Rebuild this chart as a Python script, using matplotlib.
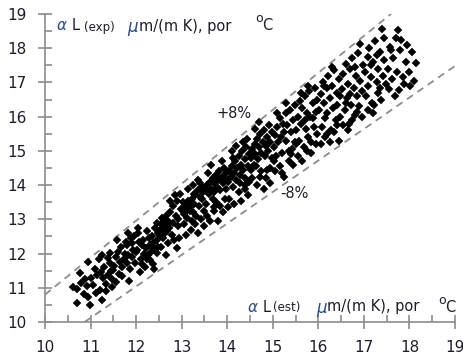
import numpy as np
import matplotlib.pyplot as plt

# (alpha_est, alpha_exp) pairs, grouped by x range
pts_106_110 = [(10.61, 11.03), (10.71, 10.56), (10.78, 11.13), (10.77, 11.42), (10.95, 11.76),
               (10.95, 10.74), (10.99, 10.50), (10.88, 11.25), (10.70, 10.95), (10.92, 11.05),
               (10.85, 10.82)]
pts_110_115 = [(11.06, 11.08), (11.21, 10.94), (11.25, 10.64), (11.14, 11.37), (11.28, 11.28),
               (11.39, 11.37), (11.25, 11.96), (11.43, 12.01), (11.47, 11.03), (11.43, 11.71),
               (11.10, 11.55), (11.18, 11.85), (11.35, 11.10), (11.02, 11.30), (11.30, 11.62),
               (11.45, 11.48), (11.12, 10.85), (11.38, 11.88), (11.22, 11.45), (11.33, 10.90),
               (11.48, 11.25)]
pts_115_120 = [(11.56, 11.18), (11.50, 11.52), (11.61, 12.06), (11.65, 11.76), (11.58, 12.40),
               (11.83, 12.59), (11.80, 12.25), (11.94, 12.11), (11.80, 11.71), (11.98, 11.71),
               (11.55, 11.90), (11.70, 11.35), (11.75, 12.00), (11.88, 12.45), (11.68, 11.60),
               (11.85, 11.20), (11.92, 11.90), (11.62, 11.40), (11.78, 12.35), (11.90, 12.30),
               (11.73, 11.85), (11.96, 12.50), (11.52, 11.65), (11.86, 11.55), (11.66, 12.20),
               (11.99, 12.05), (11.82, 11.95)]
pts_120_125 = [(12.05, 12.59), (12.13, 12.25), (12.31, 12.25), (12.27, 11.96), (12.45, 12.01),
               (12.20, 11.62), (12.09, 11.47), (12.40, 11.55), (12.35, 12.50), (12.42, 12.75),
               (12.48, 12.60), (12.02, 12.10), (12.15, 12.40), (12.22, 12.15), (12.30, 11.80),
               (12.38, 12.30), (12.10, 11.85), (12.25, 12.65), (12.45, 12.90), (12.18, 12.00),
               (12.33, 12.05), (12.46, 12.40), (12.07, 12.35), (12.28, 12.45), (12.40, 12.15),
               (12.12, 11.70), (12.36, 11.70), (12.49, 12.20), (12.04, 12.75), (12.24, 11.85)]
pts_125_130 = [(12.52, 12.70), (12.55, 12.85), (12.58, 12.62), (12.60, 12.78), (12.62, 12.95),
               (12.65, 12.70), (12.57, 12.90), (12.68, 12.82), (12.53, 12.55), (12.63, 12.60),
               (12.70, 12.95), (12.56, 13.05), (12.66, 13.10), (12.72, 12.75), (12.60, 12.45),
               (12.75, 13.20), (12.80, 13.40), (12.85, 13.70), (12.90, 13.55), (12.78, 12.55),
               (12.82, 12.90), (12.89, 12.15), (12.95, 12.45), (12.70, 12.30), (12.55, 12.20),
               (12.88, 13.10), (12.92, 12.80), (12.98, 13.30), (12.74, 13.55), (12.84, 12.40),
               (12.65, 11.95), (12.96, 13.75), (12.62, 12.88), (12.58, 12.75), (12.68, 12.65),
               (12.93, 13.00)]
pts_130_135 = [(13.02, 13.25), (13.05, 13.35), (13.08, 13.22), (13.10, 13.40), (13.12, 13.30),
               (13.15, 13.45), (13.18, 13.25), (13.06, 13.15), (13.20, 13.38), (13.14, 13.55),
               (13.03, 13.50), (13.22, 13.60), (13.25, 13.20), (13.28, 13.45), (13.30, 13.70),
               (13.35, 13.85), (13.40, 14.05), (13.45, 13.95), (13.10, 12.55), (13.20, 12.70),
               (13.30, 12.85), (13.35, 12.60), (13.42, 13.00), (13.48, 13.25), (13.38, 13.40),
               (13.45, 13.60), (13.25, 14.00), (13.15, 13.90), (13.32, 13.10), (13.05, 12.85),
               (13.48, 12.80), (13.40, 13.65), (13.27, 13.75), (13.12, 13.05), (13.36, 14.15),
               (13.22, 12.95), (13.46, 13.80)]
pts_135_140 = [(13.52, 13.85), (13.55, 14.00), (13.60, 13.75), (13.62, 14.10), (13.65, 13.90),
               (13.68, 14.20), (13.70, 13.80), (13.72, 14.05), (13.75, 14.30), (13.78, 13.95),
               (13.80, 14.15), (13.82, 14.40), (13.85, 13.85), (13.88, 14.25), (13.90, 14.05),
               (13.92, 14.50), (13.95, 14.20), (13.98, 13.90), (13.55, 13.10), (13.62, 12.95),
               (13.70, 13.25), (13.75, 13.50), (13.85, 13.40), (13.90, 13.20), (13.58, 14.35),
               (13.65, 14.60), (13.95, 13.60), (13.53, 13.45), (13.80, 12.95), (13.68, 13.60),
               (13.88, 14.70), (13.72, 13.35), (13.98, 14.35)]
pts_140_145 = [(14.02, 14.10), (14.05, 14.40), (14.08, 14.25), (14.10, 14.55), (14.12, 13.95),
               (14.15, 14.35), (14.18, 14.70), (14.20, 14.15), (14.22, 14.50), (14.25, 14.85),
               (14.28, 14.30), (14.30, 14.60), (14.32, 15.00), (14.35, 14.45), (14.38, 14.75),
               (14.40, 14.20), (14.42, 15.10), (14.45, 14.55), (14.48, 14.90), (14.05, 13.60),
               (14.15, 13.45), (14.25, 13.80), (14.30, 13.55), (14.40, 13.90), (14.45, 13.70),
               (14.10, 15.00), (14.20, 15.15), (14.35, 15.25), (14.48, 14.10), (14.02, 13.35),
               (14.38, 14.00), (14.12, 14.80), (14.27, 14.05), (14.44, 15.35)]
pts_145_150 = [(14.52, 14.80), (14.55, 15.05), (14.58, 14.60), (14.60, 15.20), (14.62, 14.90),
               (14.65, 15.35), (14.68, 14.75), (14.70, 15.10), (14.72, 15.50), (14.75, 14.95),
               (14.78, 15.25), (14.80, 15.60), (14.82, 14.85), (14.85, 15.15), (14.88, 15.40),
               (14.90, 15.00), (14.92, 15.75), (14.95, 15.25), (14.98, 14.80), (14.55, 14.20),
               (14.65, 14.00), (14.75, 14.40), (14.85, 14.20), (14.95, 14.50), (14.60, 15.65),
               (14.70, 15.85), (14.88, 14.45), (14.52, 14.45), (14.80, 13.90), (14.95, 14.05),
               (14.63, 14.55), (14.73, 14.25), (14.98, 15.55)]
pts_150_155 = [(15.02, 15.10), (15.05, 15.45), (15.08, 14.85), (15.10, 15.70), (15.12, 15.25),
               (15.15, 15.95), (15.18, 15.40), (15.20, 14.95), (15.22, 15.80), (15.25, 15.55),
               (15.28, 16.10), (15.30, 15.30), (15.32, 15.75), (15.35, 14.70), (15.38, 16.20),
               (15.40, 15.55), (15.42, 15.05), (15.45, 15.90), (15.48, 16.35), (15.05, 14.40),
               (15.15, 14.55), (15.25, 14.25), (15.35, 15.00), (15.45, 14.60), (15.10, 16.10),
               (15.30, 16.40), (15.48, 15.25), (15.02, 14.70), (15.20, 14.35), (15.40, 14.90)]
pts_155_160 = [(15.52, 15.60), (15.55, 16.00), (15.58, 15.30), (15.60, 16.45), (15.62, 15.80),
               (15.65, 16.25), (15.68, 15.10), (15.70, 16.60), (15.72, 15.65), (15.75, 16.10),
               (15.78, 15.40), (15.80, 16.75), (15.82, 16.00), (15.85, 15.25), (15.88, 16.40),
               (15.90, 15.70), (15.92, 16.85), (15.95, 16.15), (15.98, 15.50), (15.55, 14.85),
               (15.65, 14.70), (15.75, 15.00), (15.85, 14.95), (15.95, 15.20), (15.62, 16.70),
               (15.78, 16.90), (15.50, 15.20), (15.88, 15.95), (15.70, 15.90), (15.96, 16.50)]
pts_160_165 = [(16.02, 16.20), (16.05, 16.65), (16.08, 15.70), (16.10, 17.00), (16.12, 16.40),
               (16.15, 15.95), (16.18, 16.85), (16.20, 16.10), (16.22, 17.20), (16.25, 16.55),
               (16.28, 15.60), (16.30, 16.90), (16.32, 16.25), (16.35, 17.35), (16.38, 15.90),
               (16.40, 16.70), (16.42, 16.35), (16.45, 17.10), (16.48, 16.00), (16.05, 15.20),
               (16.15, 15.40), (16.25, 15.25), (16.35, 15.55), (16.45, 15.30), (16.12, 16.90),
               (16.30, 17.45), (16.40, 15.75), (16.48, 16.60), (16.20, 15.50)]
pts_165_170 = [(16.52, 16.80), (16.55, 17.25), (16.58, 16.20), (16.60, 17.55), (16.62, 16.55),
               (16.65, 16.95), (16.68, 15.80), (16.70, 17.40), (16.72, 16.35), (16.75, 17.70),
               (16.78, 16.85), (16.80, 16.05), (16.82, 17.20), (16.85, 16.60), (16.88, 17.85),
               (16.90, 16.30), (16.92, 17.05), (16.95, 16.75), (16.98, 17.50), (16.55, 15.75),
               (16.65, 15.60), (16.75, 15.90), (16.85, 16.15), (16.95, 16.00), (16.91, 18.12),
               (16.60, 16.40), (16.70, 16.65), (16.80, 17.45)]
pts_170_175 = [(17.02, 17.30), (17.05, 16.60), (17.08, 17.75), (17.10, 16.90), (17.12, 18.00),
               (17.15, 17.15), (17.18, 16.40), (17.20, 17.60), (17.22, 16.35), (17.25, 18.20),
               (17.28, 17.00), (17.30, 17.40), (17.32, 16.70), (17.35, 17.90), (17.38, 16.50),
               (17.40, 18.57), (17.42, 17.20), (17.45, 17.65), (17.48, 16.95), (17.10, 16.20),
               (17.20, 16.10), (17.35, 16.85), (17.45, 18.30), (17.28, 17.80), (17.15, 17.50)]
pts_175_182 = [(17.52, 17.40), (17.55, 16.80), (17.58, 18.05), (17.62, 17.10), (17.65, 17.70),
               (17.68, 16.60), (17.74, 18.52), (17.72, 17.30), (17.77, 16.78), (17.80, 17.95),
               (17.85, 17.15), (17.88, 16.95), (17.92, 17.60), (17.95, 18.10), (18.00, 17.30),
               (18.06, 17.89), (18.10, 17.05), (18.15, 17.56), (17.60, 17.95), (17.82, 18.25),
               (18.02, 16.90), (17.70, 18.30)]

# +/-8 % tolerance lines
tol_plus = 1.08
tol_plus_x = [10.0, 17.6]
tol_minus = 0.92
tol_minus_x = [10.87, 19.0]

all_pts = (pts_106_110 + pts_110_115 + pts_115_120 + pts_120_125 + pts_125_130 +
           pts_130_135 + pts_135_140 + pts_140_145 + pts_145_150 + pts_150_155 +
           pts_155_160 + pts_160_165 + pts_165_170 + pts_170_175 + pts_175_182)
alpha_est = np.array([p[0] for p in all_pts])
alpha_exp = np.array([p[1] for p in all_pts])

W, H = 463, 360
fig = plt.figure(figsize=(W / 100, H / 100), dpi=100)
ax = fig.add_axes([45 / W, 1 - 322 / H, 410 / W, 308 / H])

gray = "#8c8c8c"
txt = "#1c1c2e"

ax.plot(alpha_est, alpha_exp, linestyle="none", marker="D", ms=3.8,
        color="black", mec="black", mew=0.3, zorder=3)

px = np.array(tol_plus_x)
mx = np.array(tol_minus_x)
ax.plot(px, tol_plus * px, color=gray, ls=(0, (4, 3)), lw=1.3, zorder=2)
ax.plot(mx, tol_minus * mx, color=gray, ls=(0, (4, 3)), lw=1.3, zorder=2)

ax.set_xlim(10, 19)
ax.set_ylim(10, 19)
ax.set_xticks(np.arange(10, 20, 1))
ax.set_yticks(np.arange(10, 20, 1))
ax.set_xticks(np.arange(10.5, 19, 1), minor=True)
ax.set_yticks(np.arange(10.5, 19, 1), minor=True)

for s in ["top", "right"]:
    ax.spines[s].set_visible(False)
for s in ["left", "bottom"]:
    ax.spines[s].set_color(gray)
    ax.spines[s].set_linewidth(1.2)

ax.tick_params(which="major", direction="inout", length=10, width=1.2, color=gray,
               labelsize=11, labelcolor=txt)
ax.tick_params(axis="x", which="major", pad=8)
ax.tick_params(axis="y", which="major", pad=8.5)
ax.tick_params(which="minor", direction="in", length=5, width=1.2, color=gray)

# percentage labels
fig.text(217 / W, 1 - 114 / H, "+8%", fontsize=10.5, color=txt, va="center")
fig.text(280 / W, 1 - 193 / H, "-8%", fontsize=10.5, color=txt, va="center")

# axis captions built from pieces, like the original
def caption(x0, yc, tag, offs):
    a, l, t, m, rest, o, c = offs
    fig.text((x0 + a) / W, 1 - yc / H, "\u03b1", fontsize=11, style="italic", color="#2a4a8a", va="center")
    fig.text((x0 + l) / W, 1 - yc / H, "L", fontsize=10.5, color=txt, va="center")
    fig.text((x0 + t) / W, 1 - (yc + 1) / H, tag, fontsize=8.5, color=txt, va="center")
    fig.text((x0 + m) / W, 1 - (yc + 1) / H, "\u03bc", fontsize=12, style="italic", color="#2a4a8a", va="center")
    fig.text((x0 + rest) / W, 1 - yc / H, "m/(m K), por", fontsize=10.5, color=txt, va="center")
    fig.text((x0 + o) / W, 1 - (yc - 7) / H, "o", fontsize=9, color=txt, va="center")
    fig.text((x0 + c) / W, 1 - yc / H, "C", fontsize=10.5, color=txt, va="center")

caption(57, 26, "(exp)", (0, 15, 27, 70, 82, 198, 205))
caption(248, 307, "(est)", (0, 15, 25, 68, 79, 190, 197))

fig.savefig("out.png", dpi=100)
